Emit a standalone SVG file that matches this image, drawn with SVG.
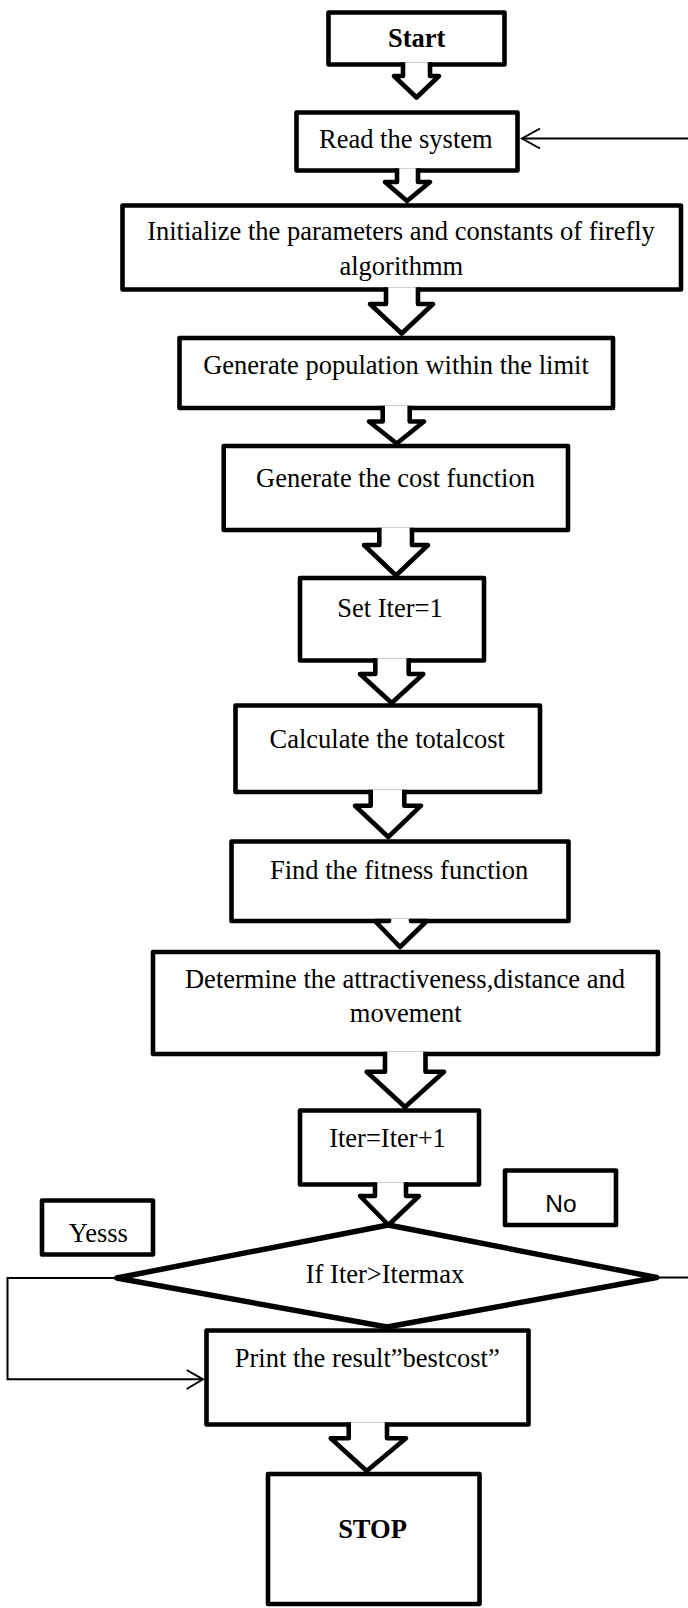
<svg xmlns="http://www.w3.org/2000/svg" width="688" height="1608" viewBox="0 0 688 1608">
<style>
.box{fill:#fff;stroke:#000;stroke-width:4.6;stroke-linejoin:round}
.lbl{fill:#fff;stroke:#000;stroke-width:4.6;stroke-linejoin:round}
.dia{fill:#fff;stroke:#000;stroke-width:5.4;stroke-linejoin:round}
.blk{fill:#fff;stroke:#000;stroke-width:4.6;stroke-linejoin:round}
.thin{fill:none;stroke:#000;stroke-width:2}
.t{font-family:"Liberation Serif","Times New Roman",serif;font-size:26.5px;fill:#000;text-anchor:middle}
.b{font-weight:bold}
.s{font-family:"Liberation Sans",Arial,sans-serif;font-size:24.5px;fill:#000;text-anchor:middle}
</style>
<rect width="688" height="1608" fill="#fff"/>

<g id="connectors">
  <line class="thin" x1="688" y1="138.5" x2="522" y2="138.5"/>
  <polyline class="thin" points="540,128.5 522,138.5 540,148.5"/>
  <line class="thin" x1="656" y1="1277.5" x2="688" y2="1277.5"/>
  <polyline class="thin" points="116.7,1278 7.5,1278 7.5,1379.3 203,1379.3"/>
  <polyline class="thin" points="186.7,1370 203,1379.3 186.7,1389"/>
</g>

<g id="n-start"><rect class="box" x="328.5" y="12.5" width="176" height="52"/><text class="t b" x="416.7" y="46.7">Start</text></g>
<g id="n-read"><rect class="box" x="296.5" y="112.5" width="221" height="58"/><text class="t" x="405.8" y="147.7">Read the system</text></g>
<g id="n-init"><rect class="box" x="122.5" y="205.5" width="558.5" height="84"/><text class="t" x="401" y="240">Initialize the parameters and constants of firefly</text><text class="t" x="401.3" y="275">algorithmm</text></g>
<g id="n-genpop"><rect class="box" x="179.5" y="338" width="433.5" height="70"/><text class="t" x="396" y="374">Generate population within the limit</text></g>
<g id="n-gencost"><rect class="box" x="223.7" y="446" width="344.3" height="84"/><text class="t" x="395.5" y="486.7">Generate the cost function</text></g>
<g id="n-setiter"><rect class="box" x="300" y="578" width="184" height="82.5"/><text class="t" x="390" y="616.7">Set Iter=1</text></g>
<g id="n-calc"><rect class="box" x="235.5" y="705.5" width="304.5" height="86.5"/><text class="t" x="387.2" y="748.3">Calculate the totalcost</text></g>
<g id="n-find"><rect class="box" x="231.5" y="841.5" width="337" height="79.5"/><text class="t" x="399.2" y="879">Find the fitness function</text></g>
<g id="n-determine"><rect class="box" x="153" y="952" width="505" height="102"/><text class="t" x="405" y="988.3">Determine the attractiveness,distance and</text><text class="t" x="405.8" y="1021.7">movement</text></g>
<g id="n-iterinc"><rect class="box" x="300" y="1110.5" width="179" height="74"/><text class="t" x="387.5" y="1147.3">Iter=Iter+1</text></g>
<g id="n-yes"><rect class="lbl" x="42" y="1200.5" width="111" height="54"/><text class="t" x="98.3" y="1241.7">Yesss</text></g>
<g id="n-no"><rect class="lbl" x="505" y="1170.5" width="111" height="54.5"/><text class="s" x="561" y="1211.7">No</text></g>
<g id="n-decision"><polygon class="dia" points="388.3,1225 656.7,1277.5 387,1327 116.7,1278"/><text class="t" x="385" y="1283.3">If Iter&gt;Itermax</text></g>
<g id="n-print"><rect class="box" x="206.5" y="1330.5" width="322" height="94"/><text class="t" x="367.2" y="1366.7">Print the result”bestcost”</text></g>
<g id="n-stop"><rect class="box" x="268" y="1474" width="211.5" height="130"/><text class="t b" x="372.5" y="1538.3">STOP</text></g>

<g id="block-arrows">
  <path class="blk" d="M403,62.2 V76 H394 L416.5,97.5 L439,76 H430 V62.2"/>
  <path class="blk" d="M397,168.2 V182 H385 L407,201 L430,182 H418 V168.2"/>
  <path class="blk" d="M386,287.2 V304 H370 L401.7,333.5 L433,304 H418 V287.2"/>
  <path class="blk" d="M382.7,405.7 V421.5 H369 L396.7,443.5 L424,421.5 H409.7 V405.7"/>
  <path class="blk" d="M379.3,527.7 V545 H364 L396,575.5 L428,545 H412 V527.7"/>
  <path class="blk" d="M375.3,658.2 V674 H360 L391.7,703 L423.3,674 H408.7 V658.2"/>
  <path class="blk" d="M370.7,789.7 V805.7 H355 L388.3,837 L421,805.7 H404.3 V789.7"/>
  <path class="blk" d="M389,918.7 V921 H375 L400,947 L426.7,921 H411 V918.7"/>
  <path class="blk" d="M385,1051.7 V1071.7 H366.7 L405,1107 L444,1071.7 H425.5 V1051.7"/>
  <path class="blk" d="M375,1182.2 V1196 H360 L388.5,1225 L419,1196 H406 V1182.2"/>
  <path class="blk" d="M348.7,1422.2 V1438.3 H330.7 L366.7,1471 L406,1438.3 H387 V1422.2"/>
</g>
</svg>
